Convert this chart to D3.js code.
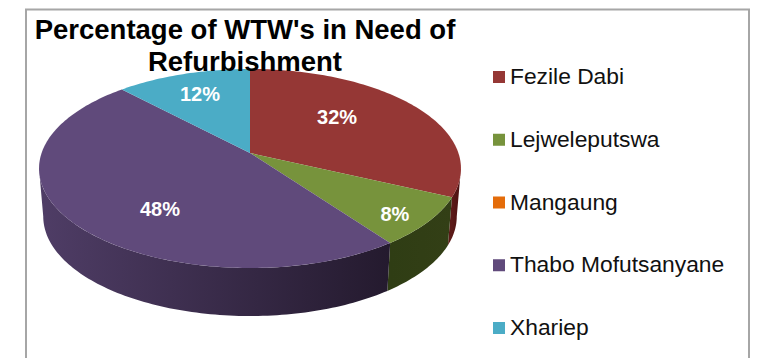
<!DOCTYPE html>
<html>
<head>
<meta charset="utf-8">
<script src="https://cdn.jsdelivr.net/npm/d3@7"></script>
<style>
  html, body { margin: 0; padding: 0; background: #fff; }
  text { font-family: "Liberation Sans", Arial, sans-serif; }
</style>
</head>
<body>
<div id="chart"></div>
<script>
var categories = ["Fezile Dabi", "Lejweleputswa", "Mangaung", "Thabo Mofutsanyane", "Xhariep"];
var values = [32, 8, 0, 48, 12];
var colors = ["#953735", "#77933c", "#e46c0a", "#604a7b", "#4bacc6"];
var wallColors = [["#5c1a18", "#4a1010"], ["#2f3d14", "#333f16"], ["#7a3a05", "#7a3a05"], ["#4f3d66", "#241a2e"], ["#2c6a7a", "#2c6a7a"]];
var titleLines = ["Percentage of WTW's in Need of", "Refurbishment"];
// where each label sits between apex and rim, x and y share
var labelRatio = [[0.536, 0.75], [0.813, 0.888], [0, 0], [0.505, 0.815], [0.746, 0.748]];

var width = 760, height = 358;

var svg = d3.select("#chart")
            .append("svg")
            .attr("width", width)
            .attr("height", height)
            .style("display", "block");

// chart frame, bottom edge is cropped in the picture
svg.append("path")
  .attr("d", "M26,358V9.5H749V358")
  .attr("fill", "none")
  .attr("stroke", "#a6a6a6")
  .attr("stroke-width", 2);

var cx = 250, cy = 153;
var persp = -0.1558, ax = 208.4, ay = 97.1;
var depth = 48, bottomShrink = 0.98;

// tilted disc with a little perspective, apex is not in the middle of the ellipse
function project(angle, bottom) {
  var u = Math.sin(angle), v = -Math.cos(angle);
  var w = 1 + persp * v;
  if (bottom) {
    return [cx + ax * bottomShrink * u / w, cy + depth + ay * v / w];
  }
  return [cx + ax * u / w, cy + ay * v / w];
}

var pie = d3.pie().sort(null).value(function(d) { return d; });
var slices = pie(values);
var line = d3.line();

function rimAngles(a0, a1) {
  var n = Math.max(2, Math.ceil((a1 - a0) / 0.02));
  return d3.range(n + 1).map(function(i) { return a0 + (a1 - a0) * i / n; });
}

var defs = svg.append("defs");

// side walls first, only the rim between the two widest points shows
var widest = Math.acos(persp);
var walls = svg.append("g");
slices.forEach(function(s, i) {
  var a0 = Math.max(s.startAngle, widest);
  var a1 = Math.min(s.endAngle, Math.PI * 2 - widest);
  if (a1 <= a0) return;
  var rim = rimAngles(a0, a1);
  var top = rim.map(function(a) { return project(a, false); });
  var bot = rim.map(function(a) { return project(a, true); }).reverse();
  var grad = defs.append("linearGradient")
    .attr("id", "wall" + i)
    .attr("gradientUnits", "userSpaceOnUse")
    .attr("x1", d3.min(top, function(p) { return p[0]; }))
    .attr("x2", d3.max(top, function(p) { return p[0]; }))
    .attr("y1", 0).attr("y2", 0);
  grad.append("stop").attr("offset", 0).attr("stop-color", wallColors[i][0]);
  grad.append("stop").attr("offset", 1).attr("stop-color", wallColors[i][1]);
  walls.append("path")
    .attr("d", line(top.concat(bot)) + "Z")
    .attr("fill", "url(#wall" + i + ")");
});

// top face
svg.append("g")
  .selectAll("path")
  .data(slices)
  .enter()
  .append("path")
  .attr("d", function(d) {
    var rim = rimAngles(d.startAngle, d.endAngle).map(function(a) { return project(a, false); });
    return line([[cx, cy]].concat(rim)) + "Z";
  })
  .attr("fill", function(d, i) { return colors[i]; });

// data labels
svg.append("g")
  .selectAll("text")
  .data(slices)
  .enter()
  .filter(function(d) { return d.value > 0; })
  .append("text")
  .attr("x", function(d) {
    var mid = (d.startAngle + d.endAngle) / 2;
    return cx + (project(mid, false)[0] - cx) * labelRatio[d.index][0];
  })
  .attr("y", function(d) {
    var mid = (d.startAngle + d.endAngle) / 2;
    return cy + (project(mid, false)[1] - cy) * labelRatio[d.index][1] + 7;
  })
  .attr("text-anchor", "middle")
  .attr("fill", "#fff")
  .attr("font-size", 20)
  .attr("font-weight", "bold")
  .text(function(d) { return d.value + "%"; });

// title sits over the pie
svg.append("g")
  .selectAll("text")
  .data(titleLines)
  .enter()
  .append("text")
  .attr("x", 245)
  .attr("y", function(d, i) { return 39 + i * 32; })
  .attr("text-anchor", "middle")
  .attr("font-size", 27.5)
  .attr("font-weight", "bold")
  .attr("fill", "#000")
  .text(function(d) { return d; });

// legend
var legendY = d3.scalePoint().domain(categories).range([77, 328]);
var legend = svg.append("g")
  .selectAll("g")
  .data(categories)
  .enter()
  .append("g")
  .attr("transform", function(d) { return "translate(493," + legendY(d) + ")"; });
legend.append("rect")
  .attr("x", 0).attr("y", -6)
  .attr("width", 12).attr("height", 12)
  .attr("fill", function(d, i) { return colors[i]; });
legend.append("text")
  .attr("x", 17).attr("y", 7)
  .attr("font-size", 22.8)
  .attr("fill", "#111")
  .text(function(d) { return d; });
</script>
</body>
</html>
